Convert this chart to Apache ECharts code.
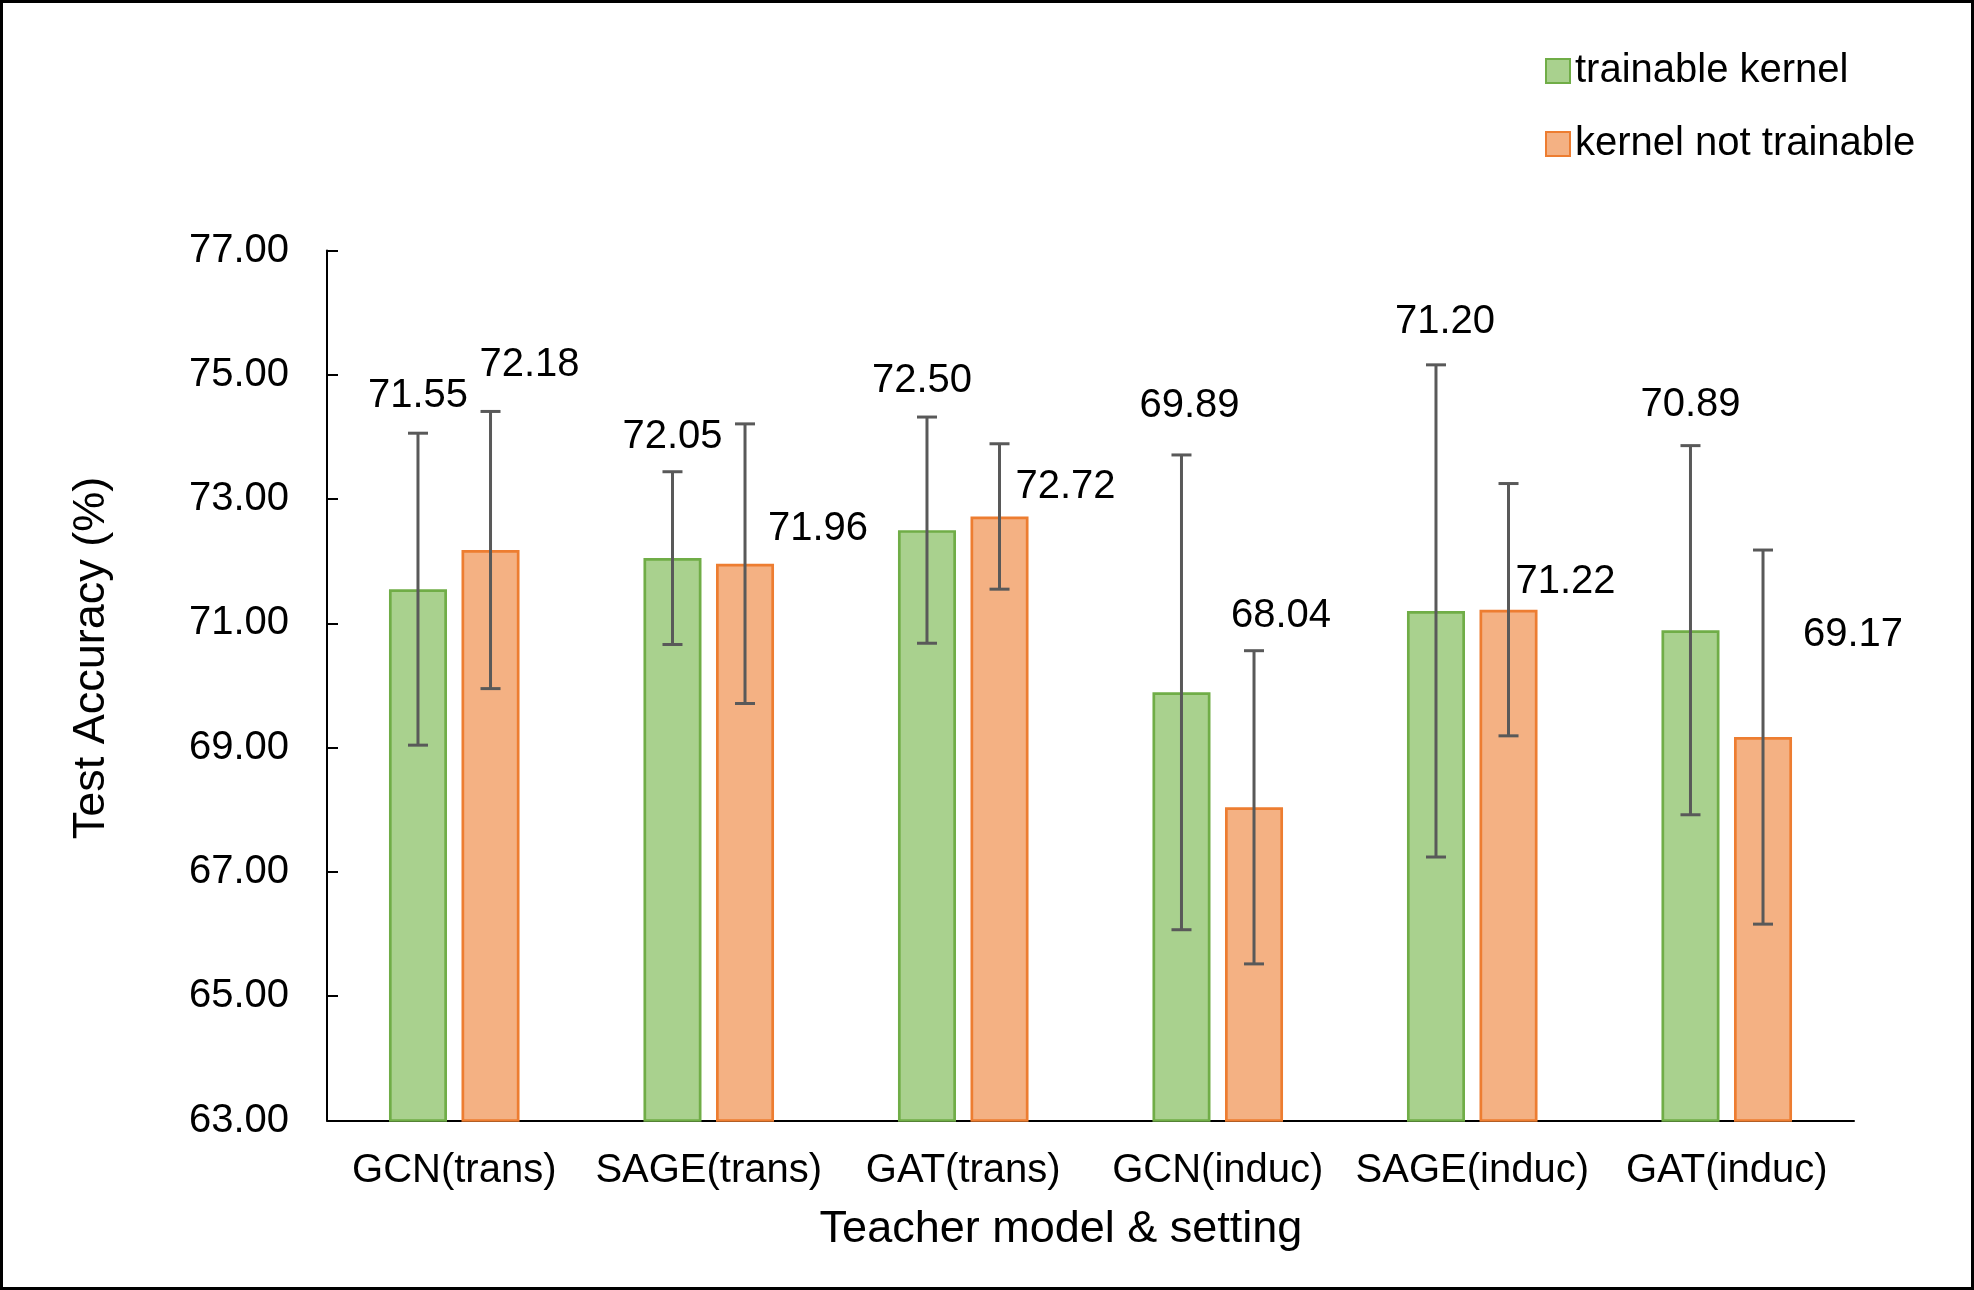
<!DOCTYPE html>
<html>
<head>
<meta charset="utf-8">
<script src="https://cdn.jsdelivr.net/npm/echarts@6/dist/echarts.min.js"></script>
<style>
html,body{margin:0;padding:0;background:#fff;}
#chart{width:1974px;height:1290px;}
</style>
</head>
<body>
<div id="chart"></div>
<script>
// ---- data ----
const categories = ['GCN(trans)', 'SAGE(trans)', 'GAT(trans)', 'GCN(induc)', 'SAGE(induc)', 'GAT(induc)'];
const seriesNames = ['trainable kernel', 'kernel not trainable'];
const trainableValues = [71.55, 72.05, 72.50, 69.89, 71.20, 70.89];
const trainableErrors = [2.51, 1.39, 1.82, 3.82, 3.96, 2.97];
const notTrainableValues = [72.18, 71.96, 72.72, 68.04, 71.22, 69.17];
const notTrainableErrors = [2.23, 2.25, 1.17, 2.52, 2.03, 3.01];
const yTicks = [63, 65, 67, 69, 71, 73, 75, 77];

// ---- layout / style (not data) ----
const FONT = '"Liberation Sans", Arial, sans-serif';
const BAR_PCT = 0.228;
const GAP_PCT = 0.25;
// label nudges in px relative to the bar's top-centre point
const labelNudge = [
  [[0, -193], [0, -121], [-5, -149], [8, -286], [9, -289], [0, -225]],
  [[39, -185], [73, -35], [66, -30], [27, -191], [57, -28], [90, -102]]
];
const fills = ['#A9D18E', '#F4B183'];
const borders = ['#70AD47', '#ED7D31'];

const chart = echarts.init(document.getElementById('chart'), null, {renderer: 'canvas'});

function makeErrSeries(s, values, errors) {
  return {
    type: 'custom',
    name: 'err' + s,
    coordinateSystem: 'cartesian2d',
    z: 10,
    clip: false,
    silent: true,
    encode: {x: 0, y: 1},
    data: values.map((v, i) => [i, v, errors[i]]),
    renderItem: function (params, api) {
      const i = api.value(0), v = api.value(1), e = api.value(2);
      const band = api.size([1, 0])[0];
      const w = band * BAR_PCT;
      const off = (s === 0 ? -1 : 1) * (w / 2 + w * GAP_PCT / 2);
      const c = api.coord([i, v]);
      const top = api.coord([i, v + e]);
      const bot = api.coord([i, v - e]);
      const x = c[0] + off;
      const cap = 10;
      const ls = {stroke: '#595959', lineWidth: 3};
      const nd = labelNudge[s][i];
      return {
        type: 'group',
        children: [
          {type: 'line', shape: {x1: x, y1: top[1], x2: x, y2: bot[1]}, style: ls},
          {type: 'line', shape: {x1: x - cap, y1: top[1], x2: x + cap, y2: top[1]}, style: ls},
          {type: 'line', shape: {x1: x - cap, y1: bot[1], x2: x + cap, y2: bot[1]}, style: ls},
          {type: 'text', style: {
            text: v.toFixed(2), x: x + nd[0], y: c[1] + nd[1],
            fill: '#000', fontSize: 40, fontFamily: FONT,
            align: 'center', verticalAlign: 'middle'
          }}
        ]
      };
    }
  };
}

const option = {
  animation: false,
  backgroundColor: '#fff',
  textStyle: {fontFamily: FONT},
  grid: {left: 327, right: 120, top: 250.5, bottom: 169.5, containLabel: false},
  legend: {
    data: seriesNames,
    orient: 'vertical',
    left: 1540,
    top: 46,
    icon: 'rect',
    itemWidth: 24,
    itemHeight: 24,
    itemGap: 33,
    textStyle: {fontSize: 40, fontFamily: FONT, color: '#000'}
  },
  xAxis: {
    type: 'category',
    data: categories,
    axisLine: {lineStyle: {color: '#000', width: 2}},
    axisTick: {inside: true, length: 11, lineStyle: {color: '#000', width: 2}},
    axisLabel: {fontSize: 40, fontFamily: FONT, color: '#000', margin: 30, interval: 0},
    splitLine: {show: false}
  },
  yAxis: {
    type: 'value',
    min: yTicks[0],
    max: yTicks[yTicks.length - 1],
    interval: yTicks[1] - yTicks[0],
    axisLine: {show: true, lineStyle: {color: '#000', width: 2}},
    axisTick: {show: true, inside: true, length: 11, lineStyle: {color: '#000', width: 2}},
    axisLabel: {fontSize: 40, fontFamily: FONT, color: '#000', margin: 38,
      formatter: v => Number(v).toFixed(2)},
    splitLine: {show: false}
  },
  series: [
    {
      type: 'bar', name: seriesNames[0], data: trainableValues,
      barWidth: (BAR_PCT * 100) + '%', barGap: (GAP_PCT * 100) + '%',
      itemStyle: {color: fills[0], borderColor: borders[0], borderWidth: 2.7}
    },
    {
      type: 'bar', name: seriesNames[1], data: notTrainableValues,
      barWidth: (BAR_PCT * 100) + '%', barGap: (GAP_PCT * 100) + '%',
      itemStyle: {color: fills[1], borderColor: borders[1], borderWidth: 2.7}
    },
    makeErrSeries(0, trainableValues, trainableErrors),
    makeErrSeries(1, notTrainableValues, notTrainableErrors)
  ],
  graphic: [
    {type: 'text', rotation: Math.PI / 2, x: 92, y: 658,
      style: {text: 'Test Accuracy (%)', fontSize: 45, fontFamily: FONT, fill: '#000',
        align: 'center', verticalAlign: 'middle'}},
    {type: 'text', x: 1061, y: 1230,
      style: {text: 'Teacher model & setting', fontSize: 45, fontFamily: FONT, fill: '#000',
        align: 'center', verticalAlign: 'middle'}},
    {type: 'rect', shape: {x: 1.5, y: 1.5, width: 1971, height: 1287}, silent: true,
      style: {fill: 'none', stroke: '#000', lineWidth: 3}}
  ]
};
chart.setOption(option);
</script>
</body>
</html>
